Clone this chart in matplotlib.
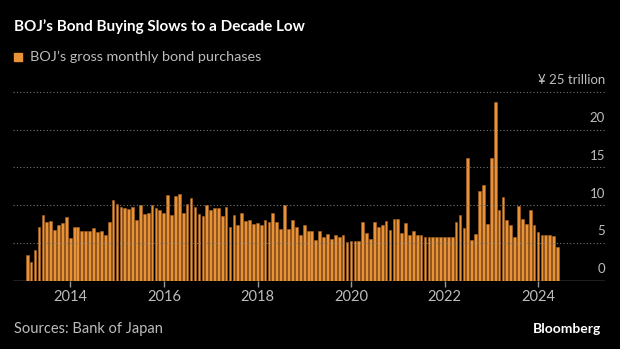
import numpy as np
import pandas as pd
import matplotlib
matplotlib.use('Agg')
import matplotlib.pyplot as plt
import matplotlib.dates as mdates

# BOJ gross monthly bond purchases, trillion yen, Jan 2013 - May 2024
months = pd.date_range('2013-01-31', periods=137, freq='ME')
purchases = [
    3.4, 2.5, 4.1, 7.1, 8.7, 7.7, 7.9, 6.7, 7.3, 7.6, 8.4, 5.7,
    7.1, 7.1, 6.6, 6.5, 6.6, 6.9, 6.4, 6.5, 6.1, 7.8, 10.7, 10.1,
    9.7, 9.6, 9.5, 9.8, 8.0, 10.0, 8.8, 9.0, 10.0, 9.6, 9.4, 9.0,
    11.4, 8.7, 11.2, 11.5, 8.9, 10.1, 10.9, 9.7, 8.8, 8.5, 10.0, 9.4,
    9.6, 9.6, 8.5, 9.7, 7.1, 8.7, 7.4, 9.0, 7.9, 8.0, 7.5, 7.6,
    7.3, 8.0, 7.7, 9.0, 7.8, 6.8, 10.0, 6.8, 8.0, 7.1, 6.1, 7.3,
    6.5, 6.5, 5.4, 6.5, 5.8, 6.2, 5.5, 6.0, 5.8, 6.1, 5.1, 5.3,
    5.2, 5.2, 7.7, 6.3, 5.5, 7.7, 7.1, 7.3, 7.9, 6.7, 8.2, 8.1,
    6.3, 7.6, 6.1, 6.6, 6.1, 6.1, 5.8, 5.8, 5.8, 5.8, 5.8, 5.8,
    5.8, 5.8, 7.7, 8.7, 7.0, 16.2, 5.4, 6.2, 11.9, 12.6, 7.5, 16.2,
    23.7, 9.4, 11.1, 8.0, 7.4, 5.8, 9.9, 8.2, 7.5, 9.3, 7.4, 6.4,
    6.0, 6.0, 6.0, 5.9, 4.5,
]
y_ticks = [0, 5, 10, 15, 20, 25]
y_labels = ['0', '5', '10', '15', '20', '¥ 25 trillion']
x_years = [2014, 2016, 2018, 2020, 2022, 2024]

BG = '#000000'
ORANGE = '#e8933a'
GREY = '#bdbdbd'

plt.rcParams['font.family'] = ['Lato', 'DejaVu Sans']

fig = plt.figure(figsize=(6.2, 3.49), dpi=100, facecolor=BG)
ax = fig.add_axes([13 / 620, 1 - 280.5 / 349, (605 - 13) / 620, (280.5 - 92) / 349])
ax.set_facecolor(BG)

ax.bar(months, purchases, width=21, color=ORANGE, edgecolor='#a9631f',
       linewidth=0.4, zorder=2)

for v in y_ticks[1:]:
    ax.axhline(v, color='#808080', lw=0.8, ls=(0, (1.0, 2.0)), alpha=0.9, zorder=3, clip_on=False)
ax.axhline(0, color='#9a9a9a', lw=1.0, zorder=1)

for v, lab in zip(y_ticks, y_labels):
    ax.annotate(lab, xy=(1.0, v), xycoords=('axes fraction', 'data'),
                xytext=(0, 4), textcoords='offset points',
                ha='right', va='bottom', color=GREY, fontsize=9.5, annotation_clip=False)

ax.set_xlim(pd.Timestamp('2012-10-10'), pd.Timestamp('2025-06-05'))
ax.set_ylim(0, 25)
ax.set_xticks([pd.Timestamp(f'{y}-01-01') for y in x_years])
ax.xaxis.set_major_formatter(mdates.DateFormatter('%Y'))
ax.tick_params(axis='x', colors='#9a9a9a', length=4, width=1, labelcolor=GREY,
               labelsize=10.5, pad=3)
ax.set_yticks([])
for s in ax.spines.values():
    s.set_visible(False)

fig.text(14 / 620, 1 - 27 / 349, 'BOJ’s Bond Buying Slows to a Decade Low',
         color='white', fontsize=11, fontweight='bold', va='center', ha='left')
fig.patches.append(plt.Rectangle((14 / 620, 1 - 61 / 349), 8 / 620, 8 / 349,
                                 transform=fig.transFigure, color=ORANGE))
fig.text(30 / 620, 1 - 57 / 349, 'BOJ’s gross monthly bond purchases',
         color=GREY, fontsize=10.4, va='center', ha='left')
fig.text(14 / 620, 1 - 329 / 349, 'Sources: Bank of Japan',
         color=GREY, fontsize=10.5, va='center', ha='left')
fig.text(601 / 620, 1 - 329 / 349, 'Bloomberg',
         color='white', fontsize=10, fontweight='bold', va='center', ha='right')

fig.savefig('out.png', dpi=100, facecolor=BG)
